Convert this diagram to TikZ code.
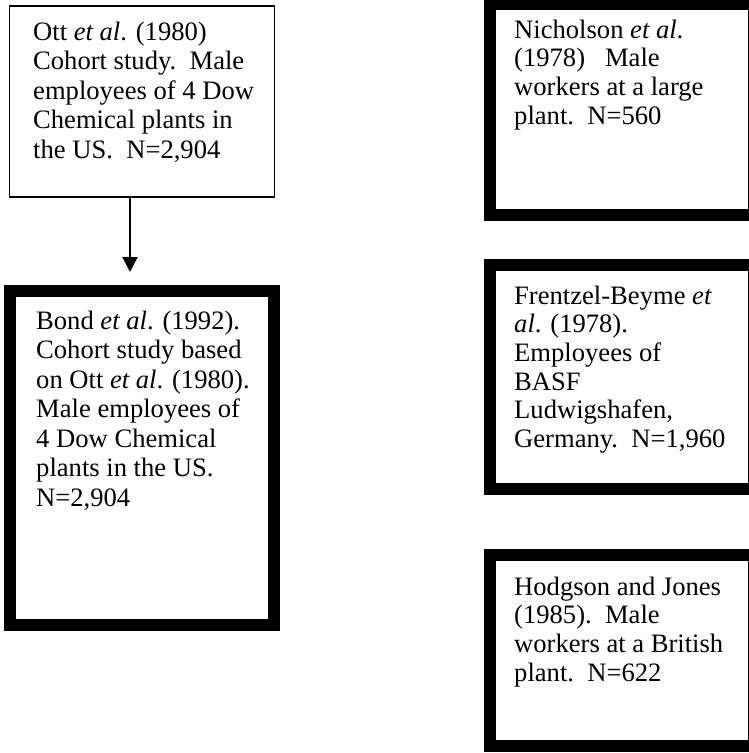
\documentclass[tikz,border=0pt]{standalone}
\usepackage{fontspec}
\setmainfont{Liberation Serif}
\usetikzlibrary{arrows.meta,calc}
\begin{document}
\begin{tikzpicture}[x=1pt,y=-1pt,
  thinbox/.style={draw=black,line width=1.4pt,minimum width=265pt,minimum height=191pt,inner sep=0pt},
  thickbox/.style={draw=black,line width=12pt,minimum width=264pt,inner sep=0pt},
  boxtext/.style={anchor=north west,inner sep=0pt,align=left,font=\fontsize{26.6}{29.5}\selectfont},
  boxtextr/.style={anchor=north west,inner sep=0pt,align=left,font=\fontsize{26.6}{28.7}\selectfont},
  link/.style={line width=2pt,-{Triangle[width=15pt,length=15pt]}}]
\useasboundingbox (0,0) rectangle (749,753);
\clip (0,0) rectangle (749,753);
% left column
\node[thinbox] (ott) at (142,101.5) {};
\node[boxtext] (otttext) at (33,19.35) {\strut Ott \textit{et al}. (1980)\\Cohort study.\ \ Male\\employees of 4 Dow\\Chemical plants in\\the US.\ \ N=2,904};
\node[thickbox,minimum height=334pt] (bond) at (142,458) {};
\node[boxtext] (bondtext) at (36,308.35) {\strut Bond \textit{et al}. (1992).\\Cohort study based\\on Ott \textit{et al}. (1980).\\Male employees of\\4 Dow Chemical\\plants in the US.\\N=2,904};
\draw[link] ($(ott.south)+(-12,0)$) -- ($(bond.north)+(-12,-13)$);
% right column
\node[thickbox,minimum height=211pt] (nich) at (622,109.5) {};
\node[boxtextr] (nichtext) at (514,17.9) {\strut Nicholson \textit{et al}.\\(1978)\ \ \ Male\\workers at a large\\plant.\ \ N=560};
\node[thickbox,minimum height=224pt] (fren) at (622,377) {};
\node[boxtextr] (frentext) at (514,283.9) {\strut Frentzel-Beyme \textit{et}\\\textit{al}. (1978).\\Employees of\\BASF\\Ludwigshafen,\\Germany.\ \ N=1,960};
\node[thickbox,minimum height=191pt] (hodg) at (622,650.5) {};
\node[boxtextr] (hodgtext) at (514,574.9) {\strut Hodgson and Jones\\(1985).\ \ Male\\workers at a British\\plant.\ \ N=622};
\end{tikzpicture}
\end{document}
